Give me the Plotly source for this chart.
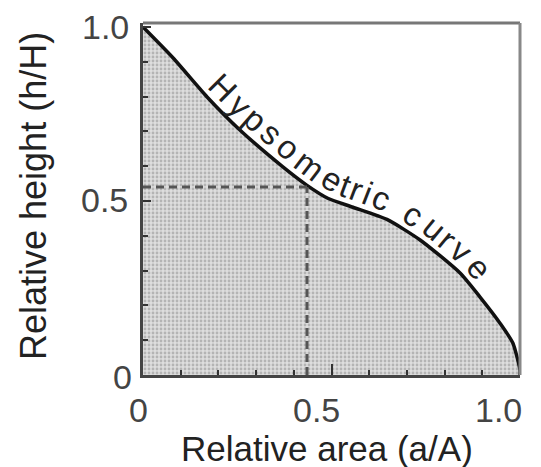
import math
import numpy as np
import plotly.graph_objects as go

# ---------------- data ----------------
area_rel = [0.0, 0.080, 0.170, 0.257, 0.371, 0.435, 0.490, 0.557, 0.647,
            0.735, 0.841, 0.894, 0.947, 0.981, 1.0, 1.0]
height_rel = [1.0, 0.911, 0.799, 0.704, 0.598, 0.545, 0.508, 0.482, 0.447,
              0.388, 0.293, 0.224, 0.149, 0.092, 0.014, 0.0]
ref_area = [0.435]
ref_height = [0.540]
x_tick_vals = [0.0, 0.5, 1.0]
x_tick_text = ["0", "0.5", "1.0"]
y_tick_vals = [0.0, 0.5, 1.0]
y_tick_text = ["0", "0.5", "1.0"]
curve_label = "Hypsometric curve"
x_title = "Relative area (a/A)"
y_title = "Relative height (h/H)"

# ---------------- layout geometry ----------------
W, H = 541, 467
ML, MR, MT, MB = 143, 21, 23, 92
X_RANGE = [0, 1.0]
Y_RANGE = [0, 1.0115]
PW = W - ML - MR
PH = H - MT - MB
FONT = "Liberation Sans, Arial, sans-serif"


def to_px(x, y):
    return (ML + (x - X_RANGE[0]) / (X_RANGE[1] - X_RANGE[0]) * PW,
            MT + PH - (y - Y_RANGE[0]) / (Y_RANGE[1] - Y_RANGE[0]) * PH)


def to_data(px, py):
    return (X_RANGE[0] + (px - ML) / PW * (X_RANGE[1] - X_RANGE[0]),
            Y_RANGE[0] + (MT + PH - py) / PH * (Y_RANGE[1] - Y_RANGE[0]))


fig = go.Figure()

# filled area under the hypsometric curve
fig.add_trace(go.Scatter(
    x=area_rel, y=height_rel, mode="lines",
    line=dict(color="#111111", width=3.5, shape="spline", smoothing=0.6),
    fill="tozeroy",
    fillcolor="#dcdcdc",
    fillpattern=dict(shape=".", fgcolor="#8a8a8a", bgcolor="#dedede",
                     size=4, solidity=0.4),
    hoverinfo="skip", showlegend=False,
))

# dashed reference lines
fig.add_trace(go.Scatter(
    x=[ref_area[0], ref_area[0]], y=[0, ref_height[0]], mode="lines",
    line=dict(color="#555555", width=3, dash="8px,5px"),
    hoverinfo="skip", showlegend=False,
))
fig.add_trace(go.Scatter(
    x=[0, ref_area[0]], y=[ref_height[0], ref_height[0]], mode="lines",
    line=dict(color="#555555", width=3, dash="8px,5px"),
    hoverinfo="skip", showlegend=False,
))

annotations = []

# tick labels
x_shifts = [-5, -15, -22]
for v, t, s in zip(x_tick_vals, x_tick_text, x_shifts):
    annotations.append(dict(
        x=v, y=0, xref="x", yref="paper", text=t, showarrow=False,
        xanchor="center", yanchor="middle", xshift=s, yshift=-35,
        font=dict(family=FONT, size=34, color="#444444"),
    ))
y_shifts = [(-21, -2), (-39, 1), (-38, 0)]
for v, t, (sx, sy) in zip(y_tick_vals, y_tick_text, y_shifts):
    annotations.append(dict(
        x=0, y=v, xref="paper", yref="y", text=t, showarrow=False,
        xanchor="center", yanchor="middle", xshift=sx, yshift=sy,
        font=dict(family=FONT, size=34, color="#444444"),
    ))

# axis titles
annotations.append(dict(
    x=(327 - ML) / PW, y=(MT + PH - 448) / PH, xref="paper", yref="paper",
    text=x_title, showarrow=False, xanchor="center", yanchor="middle",
    font=dict(family=FONT, size=35, color="#222222"),
))
annotations.append(dict(
    x=(33 - ML) / PW, y=(MT + PH - 196) / PH, xref="paper", yref="paper",
    text=y_title, showarrow=False, xanchor="center", yanchor="middle",
    textangle=-90,
    font=dict(family=FONT, size=36, color="#222222"),
))

# curve label following the curve
px_pts = np.array([to_px(x, y) for x, y in zip(area_rel, height_rel)])
seg = np.diff(px_pts, axis=0)
seg_len = np.hypot(seg[:, 0], seg[:, 1])
cum = np.concatenate([[0], np.cumsum(seg_len)])


def point_at(s):
    i = int(np.searchsorted(cum, s, side="right") - 1)
    i = max(0, min(i, len(seg) - 1))
    t = (s - cum[i]) / seg_len[i] if seg_len[i] > 0 else 0
    p = px_pts[i] + t * seg[i]
    a = px_pts[max(i - 1, 0)]
    b = px_pts[min(i + 2, len(px_pts) - 1)]
    d = (b - a)
    d = d / np.hypot(*d)
    d2 = seg[i] / seg_len[i]
    d = (d + 2 * d2)
    d = d / np.hypot(*d)
    return p, d


def arc_at_x(xd):
    pxx = to_px(xd, 0)[0]
    for i in range(len(seg)):
        if px_pts[i][0] <= pxx <= px_pts[i + 1][0] and seg[i][0] > 0:
            t = (pxx - px_pts[i][0]) / seg[i][0]
            return cum[i] + t * seg_len[i]
    return cum[-1]


widths = {"H": 722, "y": 500, "p": 556, "s": 500, "o": 556, "m": 833, "e": 556,
          "t": 278, "r": 333, "i": 222, "c": 500, " ": 278, "u": 556, "v": 500}
w = [widths.get(ch, 550) for ch in curve_label]
centers = []
acc = 0
for wi in w:
    centers.append(acc + wi / 2)
    acc += wi
c0, c1 = centers[0], centers[-1]
s_start = arc_at_x(0.178)
s_end = arc_at_x(0.855)
OFFSET = 18
for ch, c in zip(curve_label, centers):
    if ch == " ":
        continue
    s = s_start + (c - c0) / (c1 - c0) * (s_end - s_start)
    p, d = point_at(s)
    n = np.array([d[1], -d[0]])
    q = p + OFFSET * n
    xd, yd = to_data(q[0], q[1])
    ang = math.degrees(math.atan2(d[1], d[0]))
    annotations.append(dict(
        x=xd, y=yd, xref="x", yref="y", text=ch, showarrow=False,
        xanchor="center", yanchor="middle", textangle=ang,
        font=dict(family=FONT, size=33, color="#222222"),
    ))

# top and right frame lines (lighter than the axes)
shapes = [
    dict(type="line", xref="paper", yref="paper", x0=0, x1=1, y0=1, y1=1,
         line=dict(color="#777777", width=3)),
    dict(type="line", xref="paper", yref="paper", x0=1, x1=1, y0=0, y1=1,
         line=dict(color="#888888", width=3)),
]

fig.update_layout(
    width=W, height=H,
    margin=dict(l=ML, r=MR, t=MT, b=MB, pad=0),
    paper_bgcolor="white", plot_bgcolor="white",
    showlegend=False,
    annotations=annotations,
    shapes=shapes,
    xaxis=dict(
        range=X_RANGE, showgrid=False, zeroline=False,
        showline=True, linecolor="#444444", linewidth=3,
        ticks="inside", tickvals=x_tick_vals, ticklen=11, tickwidth=2,
        tickcolor="#333333", showticklabels=False,
        minor=dict(ticks="inside", dtick=0.1, ticklen=5, tickwidth=2,
                   tickcolor="#333333", showgrid=False),
    ),
    yaxis=dict(
        range=Y_RANGE, showgrid=False, zeroline=False,
        showline=True, linecolor="#444444", linewidth=3,
        ticks="inside", tickvals=y_tick_vals, ticklen=8, tickwidth=2,
        tickcolor="#333333", showticklabels=False,
        minor=dict(ticks="inside", dtick=0.1, ticklen=5, tickwidth=2,
                   tickcolor="#333333", showgrid=False),
    ),
)

fig.write_html("out.html")
